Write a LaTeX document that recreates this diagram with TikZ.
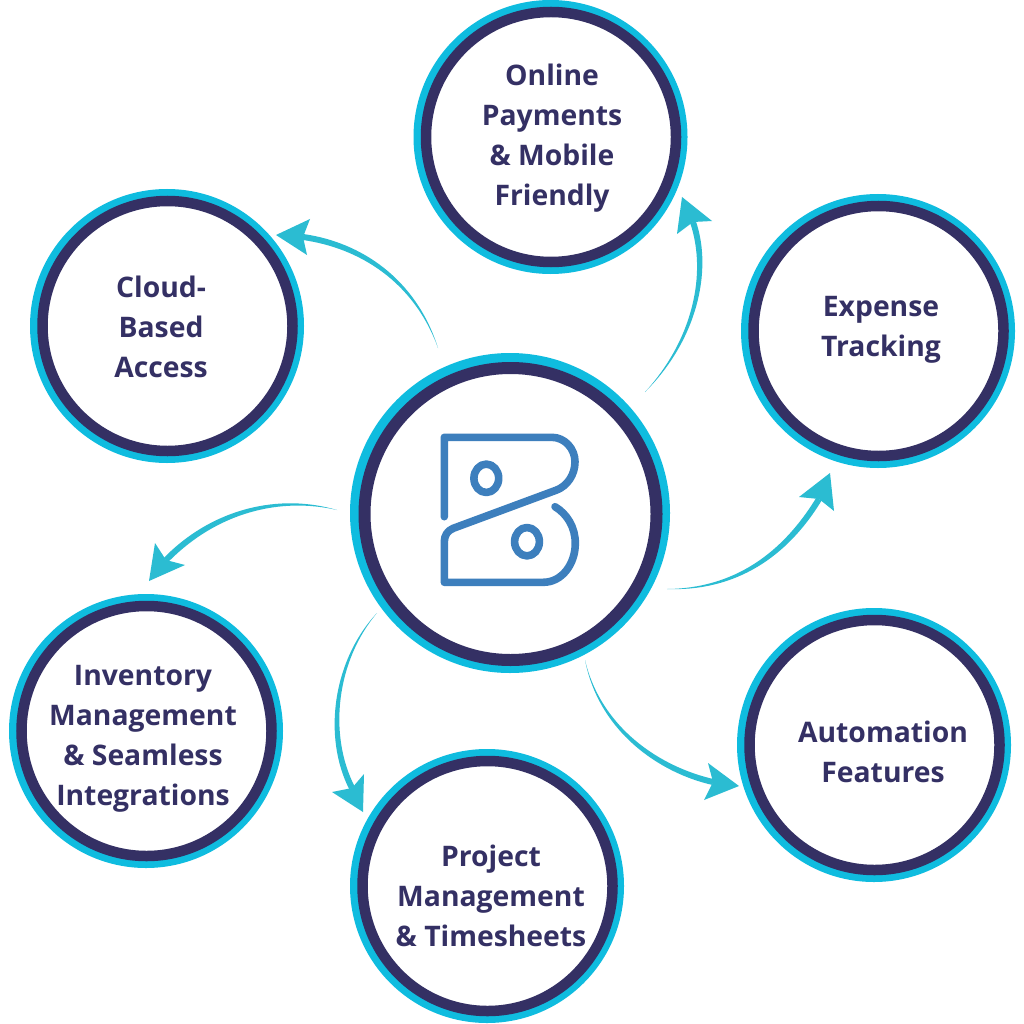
\documentclass[tikz,border=0pt]{standalone}
\usepackage{fontspec}
\setmainfont{Open Sans}
\usetikzlibrary{calc}
\definecolor{ringcyan}{HTML}{0FBCDF}
\definecolor{ringnavy}{HTML}{343064}
\definecolor{arrowcyan}{HTML}{2BBCD2}
\definecolor{logoblue}{HTML}{3D7FBD}
\tikzset{
  halo/.style={circle,fill=ringcyan,inner sep=0pt,outer sep=0pt,minimum size=274pt},
  bubble/.style={circle,draw=ringnavy,line width=10.5pt,fill=white,inner sep=0pt,outer sep=0pt,minimum size=250pt},
  hubhalo/.style={halo,minimum size=320pt},
  hubring/.style={bubble,line width=12pt,minimum size=292pt},
  caption/.style={text=ringnavy,align=center,inner sep=0pt,font=\fontsize{28.3}{40}\selectfont\bfseries},
  logoline/.style={draw=logoblue,line width=7.6pt,line cap=round,line join=round},
}
% start, control 1, control 2, notch, tip, barb 1, barb 2
\newcommand{\taperarrow}[7]{%
  \fill[arrowcyan] (#1) .. controls ($(#2)!2pt!90:(#3)$) and ($(#3)!3pt!90:(#4)$) .. ($(#4)!3pt!-90:(#3)$)
     -- ($(#4)!3pt!90:(#3)$) .. controls ($(#3)!3pt!-90:(#4)$) and ($(#2)!2pt!-90:(#3)$) .. (#1) -- cycle;
  \fill[arrowcyan] (#5) -- (#6) -- (#4) -- (#7) -- cycle;
}
\begin{document}
\begin{tikzpicture}[x=1pt,y=-1pt]
\useasboundingbox (0,0) rectangle (1024,1024);
\fill[white] (0,0) rectangle (1024,1024);

% rings
\node[halo] (h1) at (550.5,137) {};
\node[bubble] (online) at (551,137) {};
\node[halo] (h2) at (167,326) {};
\node[bubble] (cloud) at (167.5,326) {};
\node[halo] (h3) at (878,331) {};
\node[bubble] (expense) at (878.5,331) {};
\node[halo] (h4) at (874,745) {};
\node[bubble] (automation) at (874.5,745) {};
\node[halo] (h5) at (146,731) {};
\node[bubble] (inventory) at (146.5,731) {};
\node[halo] (h6) at (487,886) {};
\node[bubble] (project) at (487.5,886) {};
\node[hubhalo] (h0) at (510,513) {};
\node[hubring] (hub) at (510.5,514) {};

% labels
\node[caption] (tonline) at (552,138) {Online\\Payments\\\&~Mobile\\Friendly};
\node[caption] (tcloud) at (161,327) {Cloud-\\Based\\Access};
\node[caption] (texpense) at (881,330) {Expense\\Tracking};
\node[caption] (tautomation) at (883,752) {Automation\\Features};
\node[caption] (tinventory) at (143,739) {Inventory\\Management\\\&~Seamless\\Integrations};
\node[caption] (tproject) at (491,896) {Project\\Management\\\&~Timesheets};

% logo
\draw[logoline] (444.3,516.7) -- (444.3,437.3) -- (551.7,437.3)
  .. controls (565,437.3) and (575,449) .. (575,461.7)
  .. controls (575,475) and (567,486) .. (556.7,490)
  -- (453.3,528.3) .. controls (448,530.5) and (444.3,535) .. (444.3,541.7)
  -- (444.3,582.3) -- (543.3,582.3)
  .. controls (562,582.3) and (575.3,564) .. (575.3,543.3)
  .. controls (575.3,527) and (567,514) .. (555,506.7);
\draw[logoline] (486.3,478.3) ellipse [x radius=12.4pt,y radius=14.2pt];
\draw[logoline] (527,541.7) ellipse [x radius=12.4pt,y radius=14.2pt];

% connectors
\coordinate (s1) at (438,348); \coordinate (a1) at (415,280); \coordinate (b1) at (360,245); \coordinate (n1) at (303,237);
\coordinate (t1) at (276,235); \coordinate (u1) at (310,219); \coordinate (v1) at (307,255);
\taperarrow{s1}{a1}{b1}{n1}{t1}{u1}{v1}
\coordinate (s2) at (337,510); \coordinate (a2) at (280,495); \coordinate (b2) at (215,510); \coordinate (n2) at (166,560);
\coordinate (t2) at (149,581); \coordinate (u2) at (155,543); \coordinate (v2) at (185,565);
\taperarrow{s2}{a2}{b2}{n2}{t2}{u2}{v2}
\coordinate (s3) at (377,613); \coordinate (a3) at (335,660); \coordinate (b3) at (325,735); \coordinate (n3) at (352,788);
\coordinate (t3) at (363,812); \coordinate (u3) at (364,774); \coordinate (v3) at (332,792);
\taperarrow{s3}{a3}{b3}{n3}{t3}{u3}{v3}
\coordinate (s4) at (585,660); \coordinate (a4) at (600,730); \coordinate (b4) at (660,770); \coordinate (n4) at (713,782);
\coordinate (t4) at (739,786); \coordinate (u4) at (708,763); \coordinate (v4) at (704,800);
\taperarrow{s4}{a4}{b4}{n4}{t4}{u4}{v4}
\coordinate (s5) at (667,589); \coordinate (a5) at (735,590); \coordinate (b5) at (785,555); \coordinate (n5) at (819,499);
\coordinate (t5) at (830,473); \coordinate (u5) at (799,497); \coordinate (v5) at (834,511);
\taperarrow{s5}{a5}{b5}{n5}{t5}{u5}{v5}
\coordinate (s6) at (645,392); \coordinate (a6) at (695,340); \coordinate (b6) at (710,272); \coordinate (n6) at (693,222);
\coordinate (t6) at (682,197); \coordinate (u6) at (712,221); \coordinate (v6) at (677,234);
\taperarrow{s6}{a6}{b6}{n6}{t6}{u6}{v6}
\end{tikzpicture}
\end{document}
